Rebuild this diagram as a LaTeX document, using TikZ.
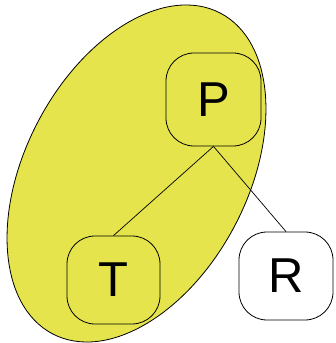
\documentclass[tikz,border=0pt]{standalone}
\usepackage{fontspec}
\setmainfont{Liberation Sans}
\definecolor{ellyellow}{RGB}{229,228,76}
\begin{document}
\begin{tikzpicture}[x=1pt,y=1pt,
  vbox/.style={draw=black, line width=0.8pt, rounded corners=28pt, inner sep=0pt,
    font=\fontsize{49}{49}\selectfont},
  conn/.style={draw=black, line width=0.7pt}]
\useasboundingbox (0,0) rectangle (336,343);
\draw[fill=ellyellow, draw=black, line width=0.8pt, shift={(136.5,169.5)}, rotate=62.4]
  (0,0) ellipse [x radius=181, y radius=111.3];
\node[vbox, minimum width=95pt, minimum height=93pt] (P) at (213.5,243.5) {P};
\node[vbox, minimum width=93pt, minimum height=88pt] (T) at (113.5,63) {T};
\node[vbox, fill=white, minimum width=94pt, minimum height=88pt] (R) at (286,67) {R};
\draw[conn] (P.south) -- (T.north);
\draw[conn] (P.south) -- (R.north);
\end{tikzpicture}
\end{document}
